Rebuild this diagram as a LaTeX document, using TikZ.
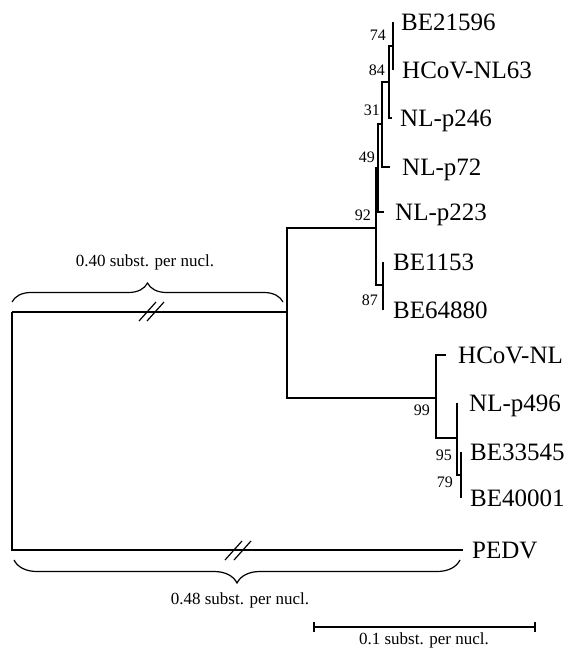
\documentclass[tikz,border=0pt]{standalone}
\usepackage{fontspec}
\setmainfont{Liberation Serif}
\usetikzlibrary{positioning,decorations.pathreplacing,arrows.meta}
\tikzset{every node/.style={draw=none,inner sep=0pt},
  leaf/.style={font=\fontsize{25}{30}\selectfont,text height=16.5pt,text depth=0pt},
  boot/.style={font=\fontsize{16}{19}\selectfont,anchor=east},
  subst/.style={font=\fontsize{17}{20}\selectfont},
  branch/.style={line width=1.4pt},
  brk/.style={line width=1.2pt},
  bigbrace/.style={decorate,decoration={brace,amplitude=#1,aspect=0.5},line width=1.2pt}}

\begin{document}
\begin{tikzpicture}[x=1pt,y=-1pt,node distance=9pt]
  \useasboundingbox (0,0) rectangle (573,650);
      % internal nodes
      \coordinate (root) at (12,312);
      \coordinate (nA) at (287,312);
      \coordinate (n92) at (376,228);
      \coordinate (n49) at (378,168);
      \coordinate (n31) at (382,124);
      \coordinate (n84) at (389,82);
      \coordinate (n74) at (393,46);
      \coordinate (n87) at (383,285);
      \coordinate (n99) at (436,398);
      \coordinate (n95) at (457,438);
      \coordinate (n79) at (461,475);
      % tips
      \coordinate (tBE21596) at (393,22);
      \coordinate (tHCoVNL63) at (393,70);
      \coordinate (tNLp246) at (392,118);
      \coordinate (tNLp72) at (390,167);
      \coordinate (tNLp223) at (384,212);
      \coordinate (tBE1153) at (383,262);
      \coordinate (tBE64880) at (383,310);
      \coordinate (tHCoVNL) at (446,355);
      \coordinate (tNLp496) at (457,403);
      \coordinate (tBE33545) at (461,452);
      \coordinate (tBE40001) at (461,498);
      \coordinate (tPEDV) at (463,550);

      \node[leaf,right=8pt of tBE21596] (lBE21596) {BE21596};
      \node[leaf,right=of tHCoVNL63] (lHCoVNL63) {HCoV-NL63};
      \node[leaf,right=8pt of tNLp246] (lNLp246) {NL-p246};
      \node[leaf,right=12pt of tNLp72] (lNLp72) {NL-p72};
      \node[leaf,right=11pt of tNLp223] (lNLp223) {NL-p223};
      \node[leaf,right=10pt of tBE1153] (lBE1153) {BE1153};
      \node[leaf,right=10pt of tBE64880] (lBE64880) {BE64880};
      \node[leaf,right=12pt of tHCoVNL] (lHCoVNL) {HCoV-NL};
      \node[leaf,right=12pt of tNLp496] (lNLp496) {NL-p496};
      \node[leaf,right=of tBE33545] (lBE33545) {BE33545};
      \node[leaf,right=of tBE40001] (lBE40001) {BE40001};
      \node[leaf,right=of tPEDV] (lPEDV) {PEDV};

      % bootstrap values
      \node[boot] (b74) at (386,35) {74};
      \node[boot] (b84) at (385,70) {84};
      \node[boot] (b31) at (380,110) {31};
      \node[boot] (b49) at (375,157) {49};
      \node[boot] (b92) at (371,215) {92};
      \node[boot] (b87) at (378,300) {87};
      \node[boot] (b99) at (430,410) {99};
      \node[boot] (b95) at (452,455) {95};
      \node[boot] (b79) at (453,482) {79};

\foreach \a/\b in {root/nA,root/tPEDV,nA/n92,nA/n99,n92/n49,n92/n87,
  n49/n31,n49/tNLp223,n31/n84,n31/tNLp72,n84/n74,n84/tNLp246,
  n74/tBE21596,n74/tHCoVNL63,n87/tBE1153,n87/tBE64880,
  n99/tHCoVNL,n99/n95,n95/tNLp496,n95/n79,n79/tBE33545,n79/tBE40001}
  \draw[branch] (\a) |- (\b);

      % breaks in the long branches
\foreach \x/\y in {139/321,147/321,225/560,234/560}
  \draw[brk] (\x,\y) -- ++(17,-19);

      % braces
      \coordinate (brA) at (12,302);
      \coordinate (brB) at (283,302);
      \coordinate (brC) at (460,560);
      \coordinate (brD) at (14,560);
      \draw[bigbrace=19pt] (brA) -- (brB);
      \draw[bigbrace=23pt] (brC) -- (brD);
      \node[subst] (s40) at (145,262) {0.40 subst. per nucl.};
      \node[subst] (s48) at (240,600) {0.48 subst. per nucl.};

      % scale bar
      \coordinate (sbL) at (313,627);
      \coordinate (sbR) at (536,627);
      \draw[line width=2.2pt,{Bar[width=10pt]}-{Bar[width=10pt]}] (sbL) -- (sbR);
      \node[subst] (s10) at (424,640) {0.1 subst. per nucl.};
    \end{tikzpicture}
\end{document}
